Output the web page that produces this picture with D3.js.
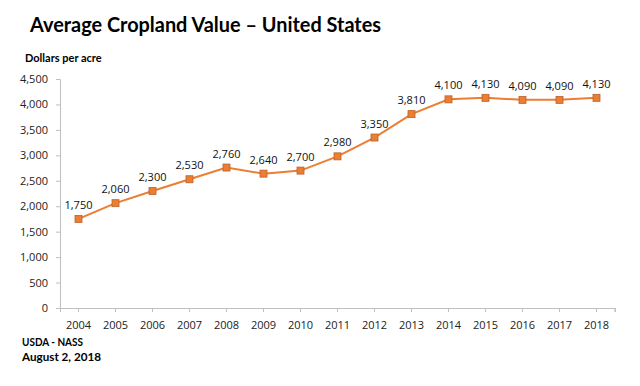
<!DOCTYPE html>
<html><head><meta charset="utf-8">
<script src="https://cdn.jsdelivr.net/npm/d3@7"></script>
<style>body{margin:0;background:#fff}svg{display:block;font-family:Lato,"Open Sans",sans-serif}</style>
</head><body>
<svg id="c" width="640" height="386"></svg>
<script>
const years = ["2004","2005","2006","2007","2008","2009","2010","2011","2012","2013","2014","2015","2016","2017","2018"];
const values = [1750,2060,2300,2530,2760,2640,2700,2980,3350,3810,4100,4130,4090,4090,4130];
const yTicks = [0,500,1000,1500,2000,2500,3000,3500,4000,4500];

const svg = d3.select("#c");
const x = d3.scaleBand().domain(years).range([60,615]);
const y = d3.scaleLinear().domain([0,4500]).range([308,79]);
const fmt = d3.format(",");
const numFont = "'Open Sans',Lato,sans-serif";

svg.append("text").attr("x",30).attr("y",32).attr("font-size",21.5).attr("font-weight","bold").attr("fill","#000")
  .attr("textLength",351).attr("lengthAdjust","spacingAndGlyphs")
  .text("Average Cropland Value – United States");
svg.append("text").attr("x",25).attr("y",62).attr("font-size",11).attr("font-weight","bold").attr("fill","#000")
  .text("Dollars per acre");

// y axis
const ya = svg.append("g").attr("transform","translate(60,0)")
  .call(d3.axisLeft(y).tickValues(yTicks).tickFormat(fmt).tickSizeOuter(0).tickSize(4).tickPadding(8));
ya.select(".domain").attr("stroke","#bfbfbf");
ya.selectAll(".tick line").attr("stroke","#bfbfbf");
ya.selectAll("text").attr("font-size",11).attr("fill","#222").attr("font-family",numFont);

// x axis
const xa = svg.append("g").attr("transform","translate(0,308)")
  .call(d3.axisBottom(x).tickSizeOuter(0).tickSize(4).tickPadding(9));
xa.select(".domain").attr("stroke","#bfbfbf");
xa.selectAll(".tick line").attr("stroke","#bfbfbf");
xa.selectAll("text").attr("font-size",11).attr("fill","#222").attr("font-family",numFont);
xa.append("line").attr("x1",615).attr("x2",615).attr("y1",0).attr("y2",4).attr("stroke","#bfbfbf");

const cx = d => x(d) + x.bandwidth()/2;
const line = d3.line().x((d,i)=>cx(years[i])).y(d=>y(d));
svg.append("path").datum(values).attr("d",line).attr("fill","none").attr("stroke","#ED7D31").attr("stroke-width",2);

svg.selectAll("rect.m").data(values).enter().append("rect")
  .attr("x",(d,i)=>cx(years[i])-3.5).attr("y",d=>y(d)-3.5).attr("width",7).attr("height",7)
  .attr("fill","#ED7D31").attr("stroke","#B8612E").attr("stroke-width",0.8);

svg.selectAll("text.l").data(values).enter().append("text")
  .attr("x",(d,i)=>cx(years[i])).attr("y",d=>y(d)-10).attr("text-anchor","middle")
  .attr("font-size",11).attr("fill","#111").attr("font-family",numFont).text(d=>fmt(d));

svg.append("text").attr("x",22).attr("y",346).attr("font-size",12).attr("font-weight","bold")
  .attr("textLength",61).attr("lengthAdjust","spacingAndGlyphs").text("USDA - NASS");
svg.append("text").attr("x",22).attr("y",361).attr("font-size",12).attr("font-weight","bold")
  .attr("textLength",79).attr("lengthAdjust","spacingAndGlyphs").text("August 2, 2018");
</script>
</body></html>
